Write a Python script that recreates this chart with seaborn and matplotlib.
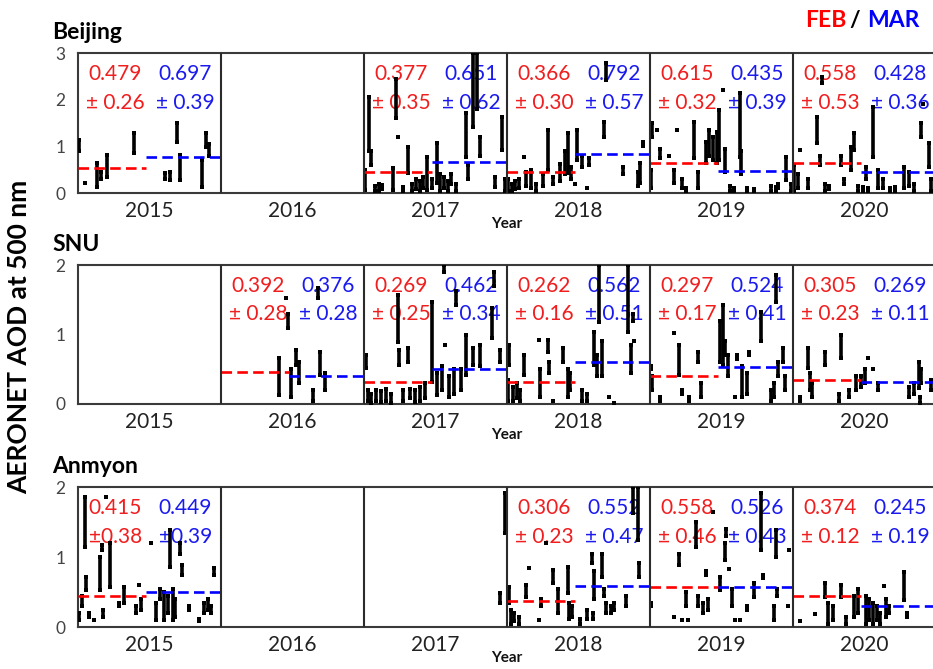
import matplotlib
matplotlib.use('Agg')
import matplotlib.pyplot as plt
import seaborn as sns
import pandas as pd

sns.set_style('white')
plt.rcParams['font.family'] = ['Lato', 'DejaVu Sans']

# ---------------- data ----------------
years = [2015, 2016, 2017, 2018, 2019, 2020]
stations = ['Beijing', 'SNU', 'Anmyon']
y_max = [3, 2, 2]
y_ticks = [[0, 1, 2, 3], [0, 1, 2], [0, 1, 2]]
feb_days = 28
season_days = 59

# annotation texts (mean, std) per year, None = no data
bj_feb_mean = ['0.479', None, '0.377', '0.366', '0.615', '0.558']
bj_feb_std = ['± 0.26', None, '± 0.35', '± 0.30', '± 0.32', '± 0.53']
bj_mar_mean = ['0.697', None, '0.651', '0.792', '0.435', '0.428']
bj_mar_std = ['± 0.39', None, '± 0.62', '± 0.57', '± 0.39', '± 0.36']
snu_feb_mean = [None, '0.392', '0.269', '0.262', '0.297', '0.305']
snu_feb_std = [None, '± 0.28', '± 0.25', '± 0.16', '± 0.17', '± 0.23']
snu_mar_mean = [None, '0.376', '0.462', '0.562', '0.524', '0.269']
snu_mar_std = [None, '± 0.28', '± 0.34', '± 0.51', '± 0.41', '± 0.11']
an_feb_mean = ['0.415', None, None, '0.306', '0.558', '0.374']
an_feb_std = ['±0.38', None, None, '± 0.23', '± 0.46', '± 0.12']
an_mar_mean = ['0.449', None, None, '0.552', '0.526', '0.245']
an_mar_std = ['±0.39', None, None, '± 0.47', '± 0.43', '± 0.19']

# dashed mean-line levels as drawn
bj_feb_line = [0.54, None, 0.44, 0.45, 0.64, 0.64]
bj_mar_line = [0.77, None, 0.67, 0.83, 0.47, 0.45]
snu_feb_line = [None, 0.46, 0.32, 0.32, 0.40, 0.35]
snu_mar_line = [None, 0.40, 0.50, 0.60, 0.53, 0.32]
an_feb_line = [0.44, None, None, 0.37, 0.57, 0.44]
an_mar_line = [0.50, None, None, 0.59, 0.57, 0.30]

# AOD observation streaks: (day since 1 Feb, low AOD, high AOD)
bj2015 = [(0.4, 0.9, 1.14), (3, 0.21, 0.21), (8, 0.13, 0.64), (9.5, 0.3, 0.45), (12, 0.34, 0.81),
          (23, 0.86, 1.29), (36, 0.3, 0.42), (38, 0.28, 0.45), (41, 1.09, 1.5), (42, 0.28, 0.81),
          (51, 0.13, 0.71), (53, 0.99, 1.29), (54, 0.8, 1.05)]
bj2017 = [(0.5, 0.06, 0.49), (2, 0.9, 2.05), (3, 0.6, 0.9), (4.5, 0.05, 0.15), (6, 0.05, 0.2),
          (7.5, 0.08, 0.18), (12, 0.06, 0.54), (13, 1.6, 2.45), (14, 1.2, 1.2), (16, 0.05, 0.12),
          (18, 0.43, 0.99), (20, 0.05, 0.2), (21.5, 0.08, 0.3), (23, 0.05, 0.25), (24.5, 0.1, 0.35),
          (26, 0.06, 0.77), (28, 0.1, 0.3), (30, 0.21, 1.07), (31.5, 0.05, 0.4), (33, 0.1, 0.35),
          (34.5, 0.05, 0.25), (36, 0.2, 0.4), (38, 0.05, 0.2), (42, 0.77, 1.71), (43, 0.3, 0.6),
          (45, 1.41, 3.0), (46.5, 1.8, 3.0), (48, 0.8, 1.2), (54, 0.13, 0.34), (57, 0.92, 1.63),
          (58, 0.05, 0.3)]
bj2018 = [(0.5, 0.05, 0.3), (2, 0.05, 0.2), (3.5, 0.08, 0.25), (5, 0.1, 0.3), (7, 0.77, 0.77),
          (8, 0.15, 0.45), (10, 0.1, 0.5), (12, 0.05, 0.2), (15, 0.15, 0.4), (17, 0.49, 1.35),
          (19, 0.2, 0.35), (22, 0.25, 0.63), (24, 0.4, 0.9), (25, 0.43, 1.29), (26.5, 0.3, 0.55),
          (28, 0.2, 0.2), (29, 0.71, 1.35), (31, 0.55, 0.8), (33, 0.1, 0.1), (34, 0.6, 0.75),
          (40, 1.2, 1.52), (41, 2.42, 2.79), (48, 0.4, 0.55), (54, 0.15, 0.45), (55, 0.21, 0.64),
          (56, 1.0, 1.1)]
bj2019 = [(0.5, 0.1, 0.5), (1, 1.2, 1.5), (3, 1.35, 1.35), (4, 0.75, 0.95), (8, 0.8, 0.8),
          (10, 0.21, 0.49), (11, 1.35, 1.35), (13, 0.1, 0.3), (15, 0.05, 0.1), (18, 0.75, 1.52),
          (20, 0.1, 0.45), (23, 0.65, 1.1), (24.5, 0.8, 1.35), (26, 0.7, 1.2), (27.5, 0.65, 1.3),
          (28.5, 0.71, 1.78), (30, 2.2, 2.2), (31, 0.45, 0.95), (33, 0.05, 0.15), (34.5, 0.05, 0.1),
          (37, 0.77, 2.14), (37.5, 0.4, 0.9), (40, 0.05, 0.1), (43, 0.05, 0.08), (50, 0.05, 0.15),
          (52, 0.05, 0.12), (53, 0.1, 0.2), (56, 0.28, 0.77), (58, 0.05, 0.2)]
bj2020 = [(0.5, 0.05, 0.6), (2, 0.1, 0.4), (3, 0.92, 0.92), (6, 0.1, 0.3), (10, 1.07, 1.63),
          (11, 0.6, 0.8), (12, 2.36, 2.49), (13, 0.05, 0.2), (15, 0.08, 0.15), (20, 0.6, 0.8),
          (21, 0.2, 0.3), (24, 0.49, 0.99), (25, 0.92, 1.29), (27, 0.05, 0.15), (29, 0.05, 0.12),
          (30, 0.3, 0.55), (31, 0.05, 0.1), (33, 0.77, 1.84), (35, 0.1, 0.5), (37, 0.1, 0.3),
          (40, 0.05, 0.1), (42, 0.05, 0.12), (46, 0.1, 0.55), (48, 0.15, 0.45), (50, 0.05, 0.2),
          (53, 1.2, 1.5), (53.5, 1.9, 1.9), (56, 0.55, 1.07), (57, 0.05, 0.3)]

snu2016 = [(24, 0.13, 0.66), (27, 1.52, 1.52), (27.5, 1.1, 1.3), (29, 0.1, 0.5), (31, 0.56, 0.78),
           (32, 0.3, 0.6), (38, 0.05, 0.2), (40, 1.52, 1.67), (41, 0.42, 0.75), (43, 0.2, 0.45)]
snu2017 = [(1, 0.52, 0.7), (1.5, 0.05, 0.2), (3, 0.02, 0.15), (5, 0.05, 0.2), (7, 0.03, 0.18),
           (9, 0.05, 0.22), (11, 0.02, 0.15), (14, 0.89, 1.57), (14.5, 0.56, 0.78), (16, 0.05, 0.2),
           (18, 0.6, 0.8), (19, 0.08, 0.22), (21, 0.03, 0.2), (23, 0.05, 0.25), (25, 0.08, 0.3),
           (28, 0.32, 1.47), (30, 0.13, 0.45), (32, 0.2, 0.55), (33, 1.9, 2.0), (33.5, 0.85, 0.85),
           (35, 0.1, 0.4), (37, 0.15, 0.5), (38, 1.43, 1.62), (40, 0.2, 0.5), (42, 0.42, 1.0),
           (45, 0.56, 0.8), (48, 0.55, 0.85), (53, 0.95, 1.38), (53.5, 1.7, 1.9), (56, 0.6, 0.78)]
snu2018 = [(0.5, 0.05, 0.35), (1, 0.56, 0.85), (2.5, 0.05, 0.25), (4, 0.08, 0.3), (5.5, 0.05, 0.2),
           (7, 0.42, 0.7), (13, 0.92, 0.92), (13.5, 0.1, 0.5), (17, 0.75, 0.92), (17.5, 0.45, 0.6),
           (19, 0.05, 0.05), (23, 0.6, 0.8), (25, 0.1, 0.5), (26, 0.2, 0.45), (31, 0.05, 0.2),
           (33, 0.05, 0.15), (36, 0.56, 1.04), (37, 0.4, 0.7), (38, 1.18, 2.0), (39, 0.4, 0.9),
           (42, 0.1, 0.1), (44, 0.02, 0.02), (50, 1.04, 2.0), (51, 0.45, 0.85), (52, 1.2, 1.3),
           (52.5, 0.9, 0.9)]
snu2019 = [(0.5, 0.5, 0.55), (1, 0.2, 0.4), (4, 0.05, 0.1), (10, 1.02, 1.02), (12, 0.42, 0.85),
           (13, 0.15, 0.2), (16, 0.05, 0.1), (20, 0.6, 0.75), (21, 0.1, 0.3), (29, 0.6, 1.2),
           (30, 0.56, 1.43), (31, 0.7, 0.9), (32, 0.4, 0.7), (35, 0.1, 0.1), (36, 0.65, 0.7),
           (38, 0.1, 0.55), (40, 0.15, 0.45), (41, 0.7, 0.75), (46, 0.9, 1.32), (50, 0.05, 0.2),
           (51, 0.1, 0.3), (52, 1.47, 1.86), (53, 0.4, 0.6), (55, 0.6, 0.8), (55.5, 0.2, 0.4)]
snu2020 = [(3, 0.05, 0.1), (6, 0.52, 0.8), (7, 0.2, 0.45), (8, 0.1, 0.3), (13, 0.56, 0.75),
           (19, 0.05, 0.15), (20, 0.66, 1.0), (23, 0.1, 0.2), (26, 0.2, 0.4), (28, 0.25, 0.4),
           (29.5, 0.3, 0.5), (31, 0.66, 0.66), (33, 0.5, 0.5), (35, 0.2, 0.3), (48, 0.1, 0.25),
           (50, 0.15, 0.3), (52, 0.23, 0.6), (52.5, 0.02, 0.1), (53, 0.3, 0.5), (57, 0.2, 0.35)]

an2015 = [(0.5, 0.1, 0.2), (1.5, 0.3, 0.45), (3, 1.14, 1.86), (3.5, 0.53, 0.71), (4.5, 0.15, 0.2),
          (6.5, 0.1, 0.1), (9, 0.53, 1.0), (10, 1.1, 1.17), (10.5, 0.15, 0.25), (11.5, 1.86, 1.86),
          (13, 0.57, 1.2), (17, 0.3, 0.35), (19, 0.34, 0.57), (24, 0.2, 0.3), (25, 0.6, 0.6),
          (26, 0.25, 0.4), (30, 1.2, 1.2), (32, 0.1, 0.35), (34, 0.4, 0.55), (35.5, 0.1, 0.5),
          (37, 0.2, 0.45), (38, 0.86, 1.39), (39, 0.1, 0.55), (40, 0.15, 0.4), (42, 1.05, 1.2),
          (43, 0.74, 0.88), (46, 0.25, 0.3), (50, 0.08, 0.12), (52, 0.2, 0.35), (53.5, 0.25, 0.4),
          (55, 0.2, 0.3), (56, 0.74, 0.84)]
an2017 = [(56, 0.34, 0.49), (58, 1.34, 1.91)]
an2018 = [(1, 0.34, 0.57), (1.5, 0.05, 0.25), (3, 0.08, 0.2), (5, 0.05, 0.15), (8, 0.43, 0.6),
          (9, 0.84, 0.84), (13, 0.1, 0.1), (14, 0.3, 0.4), (16, 1.2, 1.2), (19, 0.63, 0.81),
          (21, 0.2, 0.55), (25, 0.49, 0.86), (25.5, 0.12, 0.35), (27, 0.15, 0.3), (30, 0.05, 0.12),
          (33, 0.12, 0.25), (35, 0.91, 1.05), (35.5, 0.12, 0.2), (36, 0.4, 0.8), (39, 0.71, 1.05),
          (40, 0.45, 0.55), (41, 0.2, 0.35), (43, 0.2, 0.3), (44, 0.25, 0.35), (49, 0.3, 0.45),
          (52, 1.63, 2.0), (54, 1.24, 2.0), (54.5, 0.71, 0.91)]
an2019 = [(0.5, 0.3, 0.35), (10, 0.15, 0.15), (12, 0.89, 1.05), (13, 0.1, 0.1), (15, 0.3, 0.5),
          (15.5, 0.1, 0.1), (19, 1.14, 1.5), (20, 0.3, 0.45), (22, 0.2, 0.35), (23, 0.75, 0.8),
          (24, 0.25, 0.4), (26, 1.64, 1.64), (29, 0.53, 0.71), (31, 0.96, 1.2), (31.5, 1.3, 1.4),
          (32.5, 0.83, 0.83), (34, 0.3, 0.55), (35, 0.1, 0.1), (37, 0.1, 0.1), (40, 0.25, 0.3),
          (43, 0.43, 0.63), (46, 1.1, 1.91), (46.5, 0.7, 0.75), (51, 0.1, 0.3), (52, 1.0, 1.39),
          (52.5, 0.45, 0.55), (57, 0.3, 0.3), (57.5, 1.1, 1.1)]
an2020 = [(3, 0.08, 0.08), (9, 0.18, 0.18), (13, 0.43, 0.63), (14.5, 0.05, 0.35), (16.5, 0.1, 0.3),
          (20, 0.43, 0.6), (22, 0.05, 0.15), (25, 0.15, 0.45), (27, 0.2, 0.55), (30, 0.05, 0.45),
          (31.5, 0.1, 0.4), (33, 0.05, 0.35), (34.5, 0.1, 0.3), (36, 0.05, 0.2), (37.5, 0.58, 0.58),
          (38.5, 0.15, 0.4), (39.5, 0.2, 0.3), (46, 0.39, 0.79), (47, 0.15, 0.2)]

obs = {
    'Beijing': {2015: bj2015, 2017: bj2017, 2018: bj2018, 2019: bj2019, 2020: bj2020},
    'SNU': {2016: snu2016, 2017: snu2017, 2018: snu2018, 2019: snu2019, 2020: snu2020},
    'Anmyon': {2015: an2015, 2017: an2017, 2018: an2018, 2019: an2019, 2020: an2020},
}
texts = {
    'Beijing': (bj_feb_mean, bj_feb_std, bj_mar_mean, bj_mar_std),
    'SNU': (snu_feb_mean, snu_feb_std, snu_mar_mean, snu_mar_std),
    'Anmyon': (an_feb_mean, an_feb_std, an_mar_mean, an_mar_std),
}
lines = {
    'Beijing': (bj_feb_line, bj_mar_line),
    'SNU': (snu_feb_line, snu_mar_line),
    'Anmyon': (an_feb_line, an_mar_line),
}

# ---------------- figure ----------------
RED = '#f01e1e'
BLUE = '#1a1aee'
W, H = 933, 669
fig = plt.figure(figsize=(W / 100, H / 100), dpi=100)
panel_px = [(53, 193), (265, 404), (487, 627)]

for k, name in enumerate(stations):
    top, bottom = panel_px[k]
    ax = fig.add_axes([78 / W, 1 - bottom / H, 858 / W, (bottom - top) / H])
    ax.set_facecolor('white')

    rows = []
    for yi, yr in enumerate(years):
        for d, lo, hi in obs[name].get(yr, []):
            rows.append({'x': yi * season_days + d, 'lo': lo, 'hi': hi})
    df = pd.DataFrame(rows)
    ax.vlines(df['x'], df['lo'], df['hi'], color='black', lw=2.6, zorder=3)
    pts = pd.concat([df[['x', 'lo']].rename(columns={'lo': 'y'}),
                     df[['x', 'hi']].rename(columns={'hi': 'y'})])
    sns.scatterplot(data=pts, x='x', y='y', ax=ax, color='black', s=9, marker='s',
                    linewidth=0, zorder=3, legend=False)

    fm, fs, mm, ms = texts[name]
    fl, ml = lines[name]
    tr = ax.get_xaxis_transform()
    for yi, yr in enumerate(years):
        x0 = yi * season_days
        if fl[yi] is not None:
            ax.plot([x0, x0 + feb_days], [fl[yi], fl[yi]], color='red', lw=1.9,
                    dashes=(4, 2), zorder=4)
        if ml[yi] is not None:
            ax.plot([x0 + feb_days, x0 + season_days], [ml[yi], ml[yi]], color='blue', lw=1.9,
                    dashes=(4, 2), zorder=4)
        if fm[yi] is not None:
            ax.text(x0 + 15.3, 0.85, fm[yi], transform=tr, color=RED, fontsize=15,
                    ha='center', va='center', zorder=1)
            ax.text(x0 + 15.3, 0.645, fs[yi], transform=tr, color=RED, fontsize=15,
                    ha='center', va='center', zorder=1)
        if mm[yi] is not None:
            ax.text(x0 + 44.2, 0.85, mm[yi], transform=tr, color=BLUE, fontsize=15,
                    ha='center', va='center', zorder=1)
            ax.text(x0 + 44.2, 0.645, ms[yi], transform=tr, color=BLUE, fontsize=15,
                    ha='center', va='center', zorder=1)

    for yi in range(1, len(years)):
        ax.axvline(yi * season_days, color='#2b2b2b', lw=1.5, zorder=5)

    ax.set_xlim(0, season_days * len(years))
    ax.set_ylim(0, y_max[k])
    ax.set_xticks([yi * season_days + season_days / 2 for yi in range(len(years))])
    ax.set_xticklabels([str(y) for y in years])
    ax.set_yticks(y_ticks[k])
    ax.set_yticklabels([str(t) for t in y_ticks[k]])
    ax.tick_params(axis='x', length=0, pad=6, labelsize=15, labelcolor='#222222')
    ax.tick_params(axis='y', length=0, pad=9, labelsize=12.5, labelcolor='#444444')
    ax.set_xlabel('Year', fontsize=11, fontweight='bold', labelpad=-3, color='#111111')
    ax.set_ylabel('')
    for sp in ax.spines.values():
        sp.set_color('#3a3a3a')
        sp.set_linewidth(1.5)
    ax.annotate(name, xy=(0, 1), xycoords='axes fraction', xytext=(-26, 14),
                textcoords='offset pixels', ha='left', va='baseline',
                fontsize=16.5, fontweight='bold', color='black')

fig.text(19 / W, 1 - 337 / H, 'AERONET AOD at 500 nm', rotation=90, ha='center',
         va='center', fontsize=19, fontweight='bold', color='black')
fig.text(805 / W, 1 - 27 / H, 'FEB', color='red', fontsize=16.5, fontweight='bold',
         ha='left', va='baseline')
fig.text(855 / W, 1 - 27 / H, '/', color='black', fontsize=16.5, fontweight='bold',
         ha='center', va='baseline')
fig.text(867 / W, 1 - 27 / H, 'MAR', color='blue', fontsize=16.5, fontweight='bold',
         ha='left', va='baseline')

fig.savefig('out.png', dpi=100)
